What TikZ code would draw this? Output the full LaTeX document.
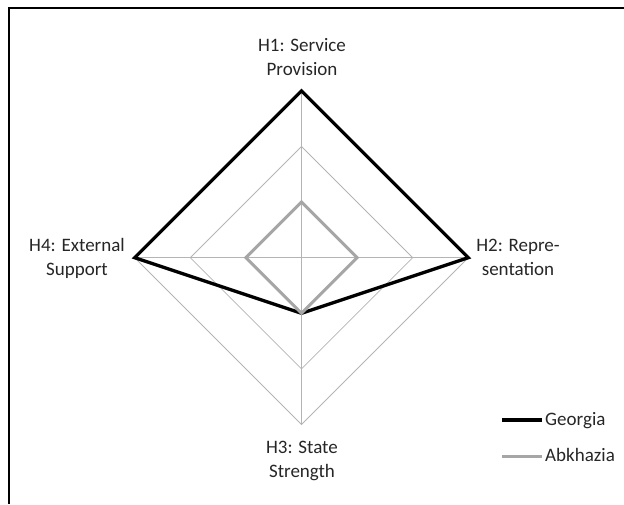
\documentclass[tikz,border=0pt]{standalone}
\usepackage{fontspec}
\usetikzlibrary{calc}
\setmainfont{Carlito}
\definecolor{gridc}{HTML}{B4B4B4}
\definecolor{abkc}{HTML}{A6A6A6}
\definecolor{txtc}{HTML}{262626}
\begin{document}
\begin{tikzpicture}[x=1pt,y=-1pt,
  lbl/.style={font=\fontsize{19}{24}\selectfont, align=center, inner sep=0pt, anchor=base, text=txtc},
  legtxt/.style={font=\fontsize{19}{24}\selectfont, inner sep=0pt, anchor=base west, text=txtc},
  gridline/.style={draw=gridc, line width=0.8pt},
  georgia/.style={draw=black, line width=3.3pt, line join=miter},
  abkhazia/.style={draw=abkc, line width=3pt, line join=miter}]
\useasboundingbox (0,0) rectangle (624,504);
\draw[line width=2.2pt] (9,504) -- (9,8) -- (624,8);
\coordinate (c) at (301.5,257.7);
\def\u{55.6}
% grid rings
\foreach \r in {1,2,3}{
  \draw[gridline] ($(c)+(0,-\r*\u)$) -- ($(c)+(\r*\u,0)$) -- ($(c)+(0,\r*\u)$) -- ($(c)+(-\r*\u,0)$) -- cycle;
}
% axes
\coordinate (t3) at ($(c)+(0,-3*\u)$);
\coordinate (r3) at ($(c)+(3*\u,0)$);
\coordinate (b3) at ($(c)+(0,3*\u)$);
\coordinate (l3) at ($(c)+(-3*\u,0)$);
\draw[gridline] (c) -- (t3);
\draw[gridline] (c) -- (r3);
\draw[gridline] (c) -- (b3);
\draw[gridline] (c) -- (l3);
% Georgia
\coordinate (g1) at (t3);
\coordinate (g2) at (r3);
\coordinate (g3) at ($(c)+(0,\u)$);
\coordinate (g4) at (l3);
\draw[georgia] (g1) -- (g2) -- (g3) -- (g4) -- cycle;
% Abkhazia
\coordinate (a1) at ($(c)+(0,-\u)$);
\coordinate (a2) at ($(c)+(\u,0)$);
\coordinate (a3) at ($(c)+(0,\u)$);
\coordinate (a4) at ($(c)+(-\u,0)$);
\draw[abkhazia] (a1) -- (a2) -- (a3) -- (a4) -- cycle;
% labels (anchor = baseline of last line)
\node[lbl] (h1) at (302,75) {H1: Service\\Provision};
\node[lbl] (h2) at (518,275) {H2: Repre-\\sentation};
\node[lbl] (h3) at (302,477) {H3: State\\Strength};
\node[lbl] (h4) at (77,275) {H4: External\\Support};
% legend
\coordinate (lg1) at (502,420);
\coordinate (lg2) at (542,420);
\coordinate (la1) at (502,456.7);
\coordinate (la2) at (542,456.7);
\draw[georgia] (lg1) -- (lg2);
\draw[abkhazia] (la1) -- (la2);
\node[legtxt] (tg) at (545,425) {Georgia};
\node[legtxt] (ta) at (545,461.7) {Abkhazia};
\end{tikzpicture}
\end{document}
